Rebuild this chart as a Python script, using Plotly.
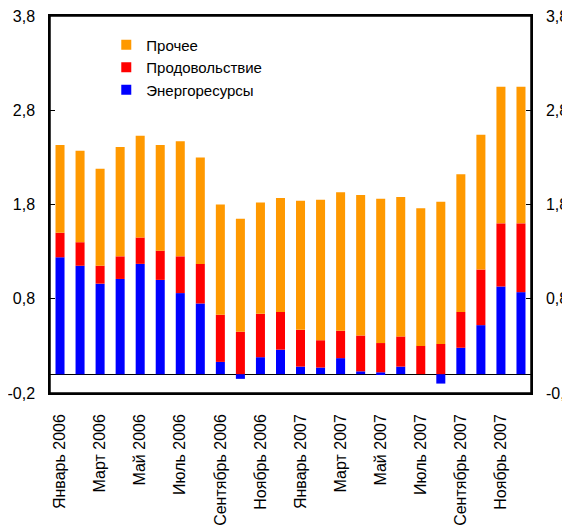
import plotly.graph_objects as go

months = ["Январь", "Февраль", "Март", "Апрель", "Май", "Июнь",
          "Июль", "Август", "Сентябрь", "Октябрь", "Ноябрь", "Декабрь"]
categories = [f"{m} {y}" for y in (2006, 2007) for m in months]

energy = [1.24, 1.15, 0.96, 1.01, 1.17, 1.00, 0.86, 0.75, 0.13, -0.05, 0.18, 0.26,
          0.08, 0.07, 0.17, 0.03, 0.02, 0.08, 0.00, -0.10, 0.28, 0.52, 0.93, 0.87]
food = [0.26, 0.25, 0.19, 0.24, 0.28, 0.31, 0.39, 0.42, 0.50, 0.45, 0.46, 0.40,
        0.39, 0.29, 0.29, 0.38, 0.31, 0.32, 0.30, 0.32, 0.38, 0.59, 0.67, 0.73]
other = [0.93, 0.97, 1.03, 1.16, 1.08, 1.12, 1.22, 1.13, 1.17, 1.20, 1.18, 1.21,
         1.37, 1.49, 1.47, 1.49, 1.53, 1.48, 1.46, 1.51, 1.46, 1.43, 1.45, 1.45]

series_names = ["Энергоресурсы", "Продовольствие", "Прочее"]
series_colors = ["#0000FF", "#FF0000", "#FF9900"]

y_tickvals = [-0.2, 0.8, 1.8, 2.8, 3.8]
y_ticktext = ["-0,2", "0,8", "1,8", "2,8", "3,8"]
x_tickvals = categories[::2]
x_ticktext = categories[::2]
boundary_ticks = [i - 0.5 for i in range(0, 25, 2)]

FONT = "Liberation Sans, Arial, sans-serif"

fig = go.Figure()
for name, vals, col in zip(series_names, [energy, food, other], series_colors):
    fig.add_trace(go.Bar(x=categories, y=vals, name=name, marker_color=col,
                         marker_line_width=0, showlegend=False))
    # legend entry (small square swatch) on the right-hand axis
    fig.add_trace(go.Scatter(x=[None], y=[None], mode="markers", name=name,
                             yaxis="y2",
                             marker=dict(symbol="square", size=10, color=col)))

# plot-area frame
fig.add_shape(type="rect", xref="paper", yref="paper", x0=0, x1=1, y0=0, y1=1,
              line=dict(color="black", width=1.5), fillcolor="rgba(0,0,0,0)",
              layer="above")

# the page body has an 8px margin, so the figure is sized to fill the rest
fig.update_layout(
    width=562, height=517,
    margin=dict(l=42, r=39, t=8, b=132),
    paper_bgcolor="white", plot_bgcolor="white",
    font=dict(family=FONT, size=15, color="black"),
    barmode="relative", bargap=0.55,
    showlegend=True,
    legend=dict(x=0.117, y=0.967, xanchor="left", yanchor="top",
                traceorder="reversed", bgcolor="rgba(0,0,0,0)",
                font=dict(size=15)),
    xaxis=dict(type="category", range=[-0.5, 23.5], showline=True, mirror="all",
               linecolor="black", linewidth=1.5, ticks="", tickmode="array",
               tickvals=x_tickvals, ticktext=x_ticktext, tickangle=-90,
               tickfont=dict(size=16), ticklabeloverflow="allow",
               ticklabelstandoff=13, showgrid=False, zeroline=False,
               automargin=False),
    xaxis3=dict(overlaying="x", anchor="free", position=0.05, type="linear",
                range=[-0.5, 23.5], showline=False, ticks="outside", ticklen=6,
                tickcolor="black", tickmode="array", tickvals=boundary_ticks,
                showticklabels=False, showgrid=False, zeroline=False,
                automargin=False),
    yaxis=dict(range=[-0.2, 3.8], tickmode="array", tickvals=y_tickvals,
               ticktext=y_ticktext, ticks="inside", ticklen=5, tickcolor="black",
               tickfont=dict(size=16), ticklabeloverflow="allow",
               showline=True, linecolor="black", linewidth=1.5, showgrid=False,
               zeroline=True, zerolinecolor="black", zerolinewidth=1,
               ticklabelstandoff=10, automargin=False),
    yaxis2=dict(overlaying="y", side="right", anchor="x", range=[-0.2, 3.8],
                tickmode="array", tickvals=y_tickvals, ticktext=y_ticktext,
                ticks="inside", ticklen=5, tickcolor="black", showline=True,
                tickfont=dict(size=16), ticklabeloverflow="allow",
                linecolor="black", linewidth=1.5, showgrid=False, zeroline=False,
                ticklabelstandoff=10, automargin=False),
)

fig.write_html("out.html")
